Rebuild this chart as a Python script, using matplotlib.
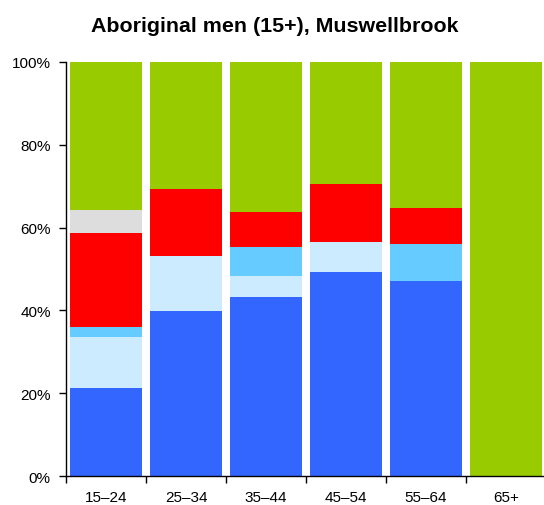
import matplotlib
matplotlib.use("Agg")
import matplotlib.pyplot as plt
import numpy as np
from matplotlib.ticker import FixedLocator, PercentFormatter

plt.rcParams['font.family'] = ['Liberation Sans', 'DejaVu Sans']

categories = ["15–24", "25–34", "35–44", "45–54", "55–64", "65+"]
series_names = ["Employed full-time", "Employed part-time", "Employed, away from work",
                "Unemployed", "Hours not stated", "Not in the labour force"]
full_time = [21.3, 39.9, 43.2, 49.3, 47.2, 0.0]
part_time = [12.4, 13.2, 5.2, 7.1, 0.0, 0.0]
away = [2.2, 0.0, 6.8, 0.0, 8.8, 0.0]
unemployed = [22.8, 16.3, 8.6, 14.0, 8.8, 0.0]
not_stated = [5.5, 0.0, 0.0, 0.0, 0.0, 0.0]
not_in_lf = [35.8, 30.6, 36.2, 29.6, 35.2, 100.0]
colors = ["#3366FF", "#CCEBFF", "#66CCFF", "#FF0000", "#DDDDDD", "#99CC00"]

series = [full_time, part_time, away, unemployed, not_stated, not_in_lf]

W, H = 544, 506
fig = plt.figure(figsize=(W / 100, H / 100), dpi=100)
x0, x1 = 66, 546
y0, y1 = 477.3, 62.7
ax = fig.add_axes([x0 / W, (H - y0) / H, (x1 - x0) / W, (y0 - y1) / H])

x = np.arange(len(categories))
bottom = np.zeros(len(categories))
for vals, c, name in zip(series, colors, series_names):
    v = np.array(vals)
    ax.bar(x, v, bottom=bottom, width=0.91, color=c, edgecolor='none', label=name)
    bottom += v

ax.set_xlim(-0.5, len(categories) - 0.5)
ax.set_ylim(0, 100)
ax.yaxis.set_major_locator(FixedLocator([0, 20, 40, 60, 80, 100]))
ax.yaxis.set_major_formatter(PercentFormatter(decimals=0))
ax.tick_params(axis='y', direction='out', length=5, width=1, labelsize=11, pad=6)

ax.xaxis.set_major_locator(FixedLocator(np.arange(len(categories) + 1) - 0.5))
ax.xaxis.set_major_formatter(plt.NullFormatter())
ax.xaxis.set_minor_locator(FixedLocator(x))
ax.set_xticks(x, categories, minor=True)
ax.tick_params(axis='x', which='major', direction='out', length=5, width=1)
ax.tick_params(axis='x', which='minor', length=0, labelsize=11, pad=10)

for s in ['top', 'right']:
    ax.spines[s].set_visible(False)
for s in ['left', 'bottom']:
    ax.spines[s].set_linewidth(1)
    ax.spines[s].set_color('black')

fig.text(275 / W, 1 - 26.5 / H, "Aboriginal men (15+), Muswellbrook", ha='center', va='center',
         fontsize=15.4, fontweight='bold')

fig.savefig("out.png", dpi=100)
